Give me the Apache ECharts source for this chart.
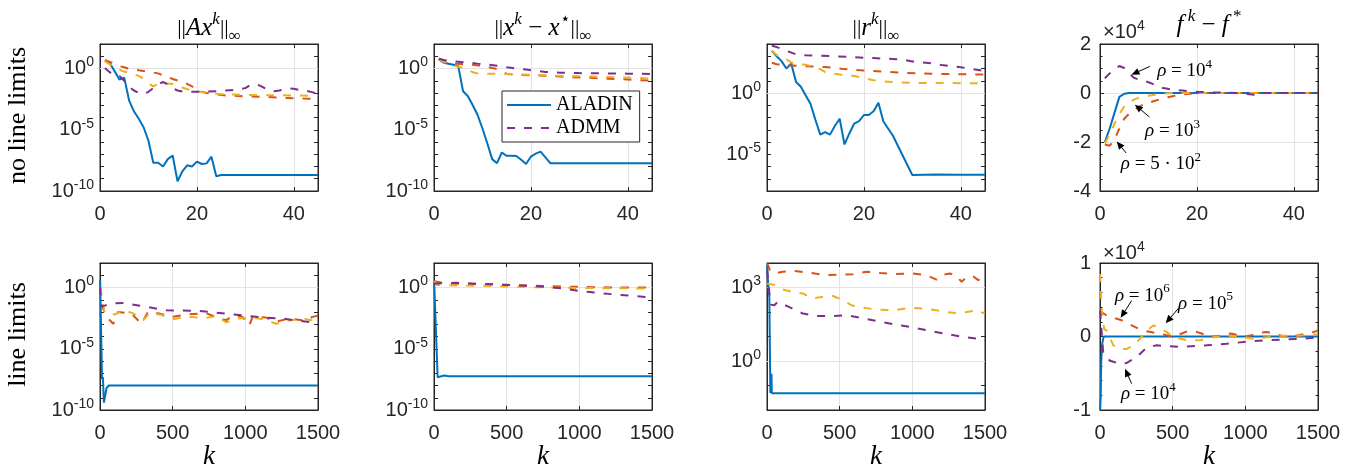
<!DOCTYPE html>
<html>
<head>
<meta charset="utf-8">
<script src="https://cdn.jsdelivr.net/npm/echarts@6/dist/echarts.min.js"></script>
<style>
html, body { margin: 0; padding: 0; background: #fff; }
#chart { width: 1354px; height: 471px; }
</style>
</head>
<body>
<div id="chart"></div>
<script>
// ---- data: [k, value] ----
// row 1: no line limits (ADMM rho = 5e2 / 1e3 / 1e4)
var consAladinFree = [[1,4.0],[2,2.8],[3,0.63],[4,0.126],[5,0.18],[6,2.5e-3],[7,3.2e-4],[8,7.9e-5],[9,1.6e-5],[10,1.26e-6],[11,2.0e-8],[12,2.0e-8],[13,1.0e-8],[14,4.0e-8],[15,7.9e-8],[16,6.3e-10],[17,4.0e-9],[18,1.26e-8],[19,1.0e-8],[20,2.5e-8],[21,1.6e-8],[22,1.8e-8],[23,6.3e-8],[24,1.6e-9],[25,2.0e-9],[45,2.0e-9]];
var consAdmm5e2Free = [[1,5.1],[2,3.5],[3,2.5],[4,1.58],[5,1.26],[6,0.95],[8,0.71],[10,0.55],[12,0.4],[13,0.28],[14,0.2],[15,0.14],[16,0.105],[17,0.079],[18,0.056],[19,0.035],[20,0.02],[21,0.0126],[22,0.01],[24,7.6e-3],[26,6.3e-3],[30,5.4e-3],[34,4.8e-3],[38,4.0e-3],[42,3.5e-3],[45,3.2e-3]];
var consAdmm1e3Free = [[1,4.0],[2,2.2],[3,1.26],[4,0.79],[5,0.56],[6,0.45],[7,0.33],[8,0.25],[9,0.14],[10,0.063],[11,0.035],[12,0.056],[13,0.063],[14,0.06],[15,0.055],[16,0.04],[17,0.028],[18,0.02],[19,0.016],[20,0.0138],[22,0.0105],[25,7.9e-3],[30,7.1e-3],[35,6.6e-3],[40,6.3e-3],[45,5.6e-3]];
var consAdmm1e4Free = [[1,1.1],[2,0.5],[3,0.28],[4,0.25],[5,0.1],[6,0.032],[7,0.016],[8,0.01],[9,7.9e-3],[10,0.0126],[11,0.025],[12,0.05],[13,0.079],[14,0.05],[15,0.025],[16,0.016],[17,0.0135],[18,0.0126],[20,0.0126],[22,0.0132],[24,0.014],[26,0.016],[28,0.018],[30,0.025],[31,0.045],[32,0.052],[33,0.04],[34,0.025],[35,0.016],[36,0.014],[37,0.016],[38,0.019],[39,0.024],[40,0.022],[41,0.018],[42,0.016],[43,0.014],[44,0.0112],[45,7.9e-3]];

var distAladinFree = [[1,5.5],[2,3.0],[3,2.4],[4,2.0],[5,1.58],[6,0.0138],[7,5.4e-3],[8,1.0e-3],[9,1.6e-4],[10,1.26e-5],[11,7.9e-7],[12,4.0e-8],[13,1.86e-8],[14,1.38e-7],[15,7.4e-8],[16,7.4e-8],[17,7.1e-8],[18,3.5e-8],[19,1.6e-8],[20,6.5e-8],[21,1.12e-7],[22,1.66e-7],[23,5.6e-8],[24,1.86e-8],[45,1.86e-8]];
var distAdmm5e2Free = [[1,6.3],[2,4.5],[3,3.2],[4,2.6],[5,2.4],[6,2.2],[8,2.0],[10,1.58],[12,1.12],[13,0.89],[14,0.56],[15,0.38],[17,0.3],[20,0.275],[24,0.25],[28,0.2],[32,0.174],[36,0.148],[40,0.126],[45,0.1]];
var distAdmm1e3Free = [[1,5.6],[2,3.5],[3,2.5],[4,1.78],[5,1.41],[6,1.12],[7,0.79],[8,0.5],[9,0.4],[11,0.37],[14,0.36],[16,0.34],[20,0.3],[24,0.27],[28,0.24],[32,0.22],[36,0.2],[40,0.18],[45,0.15]];
var distAdmm1e4Free = [[1,6.3],[2,5.0],[3,4.2],[5,3.6],[7,3.0],[9,2.5],[11,2.1],[13,1.66],[15,1.26],[17,1.0],[19,0.83],[21,0.65],[23,0.52],[26,0.46],[30,0.42],[35,0.4],[40,0.38],[45,0.36]];

var resAladinFree = [[1,2800],[2,1000],[3,400],[4,100],[5,250],[6,7.9],[7,3.2],[8,0.63],[9,0.126],[10,6.3e-3],[11,4.0e-4],[12,6.3e-4],[13,4.0e-4],[14,2.0e-3],[15,7.9e-3],[16,6.3e-5],[17,5.0e-4],[18,3.2e-3],[19,5.0e-3],[20,0.016],[21,0.016],[22,0.032],[23,0.158],[24,5.0e-3],[26,3.2e-4],[28,7.9e-6],[30,2.0e-7],[35,2.2e-7],[40,2.1e-7],[45,2.1e-7]];
var resAdmm5e2Free = [[1,295],[2,224],[4,190],[6,166],[8,151],[10,141],[12,132],[14,112],[16,89],[18,76],[20,68],[24,55],[28,45],[32,40],[36,36],[40,34],[45,32]];
var resAdmm1e3Free = [[1,2800],[2,1260],[3,790],[4,560],[5,316],[6,224],[8,200],[10,126],[11,89],[12,50],[13,40],[15,33],[17,28],[18,24],[19,20],[20,15.8],[22,11.2],[24,8.9],[27,7.6],[30,6.6],[45,6.3]];
var resAdmm1e4Free = [[1,7100],[2,5600],[3,4000],[4,2800],[5,2000],[6,1400],[8,1200],[10,1120],[14,1000],[18,830],[22,710],[26,600],[28,525],[30,380],[32,316],[34,263],[36,190],[38,158],[40,126],[42,95],[45,63]];

var objAladinFree = [[1,-20000],[2,-14500],[3,-8000],[4,-1600],[5,-300],[6,0],[45,0]];
var objAdmm5e2Free = [[1,-21000],[2,-21500],[3,-19000],[4,-14500],[5,-10500],[6,-8500],[7,-7000],[8,-5700],[9,-4700],[10,-4000],[11,-3400],[12,-2800],[13,-2200],[14,-1700],[15,-1300],[16,-900],[17,-600],[18,-400],[19,-200],[20,0],[45,0]];
var objAdmm1e3Free = [[1,-20500],[2,-17000],[3,-12500],[4,-8500],[5,-5500],[6,-3800],[7,-2700],[8,-2000],[9,-1500],[10,-1100],[11,-800],[12,-500],[13,-300],[14,-100],[15,0],[45,0]];
var objAdmm1e4Free = [[1,6000],[2,8000],[3,9800],[4,11000],[5,10200],[6,8000],[7,6200],[8,5500],[9,5000],[10,4400],[11,3600],[12,2700],[13,2000],[14,1700],[15,1400],[16,1200],[17,1000],[18,800],[19,700],[20,500],[22,300],[24,200],[26,100],[28,0],[30,-400],[32,-700],[33,-300],[34,0],[45,0]];

// row 2: line limits (ADMM rho = 1e6 / 1e5 / 1e4)
var consAladinLim = [[1,4.0],[14,3.2e-8],[20,5.0e-8],[27,4.0e-10],[45,6.0e-9],[60,1.0e-8],[1500,1.0e-8]];
var consAdmm1e6Lim = [[1,1.0],[20,0.02],[46,3.9e-3],[91,1.1e-3],[125,0.01],[216,7.4e-3],[285,1.1e-3],[330,0.01],[410,7.4e-3],[500,4.0e-3],[600,6.3e-3],[730,7.9e-3],[823,3.0e-3],[868,2.1e-3],[913,5.0e-3],[980,4.0e-3],[1027,7.9e-4],[1050,4.0e-3],[1142,3.5e-3],[1210,1.6e-3],[1300,2.9e-3],[1415,2.0e-3],[1461,4.0e-3],[1500,5.0e-3]];
var consAdmm1e5Lim = [[1,1.0],[30,0.01],[68,0.01],[100,6.0e-3],[160,0.0138],[228,7.9e-3],[297,2.1e-3],[340,8.0e-3],[420,6.0e-3],[500,2.5e-3],[560,3.5e-3],[640,4.0e-3],[700,3.0e-3],[800,4.5e-3],[868,1.45e-3],[950,3.0e-3],[1050,3.5e-3],[1130,2.5e-3],[1210,1.1e-3],[1300,2.0e-3],[1400,3.0e-3],[1450,2.1e-3],[1500,2.5e-3]];
var consAdmm1e4Lim = [[1,1.0],[11,0.026],[68,0.049],[160,0.055],[275,0.032],[457,0.0138],[685,0.0123],[913,6.5e-3],[1027,4.5e-3],[1142,3.5e-3],[1256,2.9e-3],[1370,1.9e-3],[1500,1.26e-3]];

var distAladinLim = [[1,2.9],[25,4.7e-8],[71,6.5e-8],[100,5.8e-8],[1500,5.8e-8]];
var distAdmm1e6Lim = [[1,3.2],[83,2.1],[300,1.9],[543,1.55],[773,1.3],[1003,1.12],[1233,1.0],[1500,1.0]];
var distAdmm1e5Lim = [[1,3.2],[20,1.6],[100,1.5],[300,1.4],[500,1.2],[700,1.05],[900,0.95],[1100,0.9],[1300,0.86],[1500,0.83]];
var distAdmm1e4Lim = [[1,2.0],[60,2.3],[150,2.4],[420,1.8],[704,1.29],[888,0.83],[1003,0.5],[1233,0.28],[1500,0.15]];

var resAladinLim = [[1,8000],[5,2500],[10,1000],[16,400],[23,0.05],[29,0.05],[31,0.3],[33,0.048],[1500,0.048]];
var resAdmm1e6Lim = [[1,10000],[20,5000],[50,3700],[108,4400],[177,4800],[292,4000],[407,3200],[500,3300],[592,3500],[684,4400],[780,3900],[870,3500],[1005,3700],[1097,3200],[1166,2100],[1210,3300],[1258,3700],[1300,3200],[1339,1700],[1373,2700],[1420,2800],[1453,2000],[1500,2700]];
var resAdmm1e5Lim = [[1,1450],[50,1260],[108,830],[177,660],[246,575],[315,355],[384,420],[453,450],[522,310],[580,190],[660,150],[752,126],[867,117],[982,150],[1074,138],[1166,118],[1235,100],[1304,91],[1373,100],[1442,117],[1500,87]];
var resAdmm1e4Lim = [[1,5000],[25,200],[50,190],[73,257],[154,158],[246,87],[338,68],[453,68],[545,74],[637,59],[752,43],[867,32],[982,25],[1097,18],[1212,13.5],[1327,10],[1442,8.3],[1500,7.1]];

var objAladinLim = [[1,-10000],[5,-8000],[8,-3500],[15,-1000],[25,0],[1500,0]];
var objAdmm1e6Lim = [[1,3500],[20,3200],[50,2800],[100,2500],[150,2200],[200,1700],[250,1200],[300,800],[350,600],[400,400],[450,200],[500,0],[550,300],[600,700],[650,700],[700,400],[750,0],[800,0],[850,200],[900,400],[950,200],[1000,0],[1050,200],[1100,500],[1150,600],[1200,400],[1250,100],[1300,0],[1350,100],[1400,300],[1450,500],[1500,800]];
var objAdmm1e5Lim = [[1,8500],[8,5000],[15,2500],[30,1000],[46,800],[92,-1200],[138,-1700],[184,-1700],[230,-1200],[275,-300],[321,800],[367,1500],[400,1300],[459,600],[505,-100],[596,-500],[688,-500],[780,-100],[872,100],[964,0],[1055,-300],[1150,-100],[1250,100],[1350,100],[1500,300]];
var objAdmm1e4Lim = [[1,3500],[10,1000],[23,-2400],[69,-3300],[138,-3700],[184,-3600],[252,-2800],[321,-1500],[390,-1200],[459,-1300],[550,-1400],[734,-1200],[872,-1000],[1009,-700],[1147,-500],[1284,-400],[1400,-300],[1500,-100]];

var seriesNames = [
    ['ALADIN', 'ADMM ρ=5·10²', 'ADMM ρ=10³', 'ADMM'],
    ['ALADIN', 'ADMM ρ=10⁶', 'ADMM ρ=10⁵', 'ADMM']
];
var legendNames = ['ALADIN', 'ADMM'];
var rowLabels = ['no line limits', 'line limits'];
var panelTitles = [
    '{bar|||}{i|Ax}{sup|k}{bar|||}{sub|∞}',
    '{bar|||}{i|x}{sup|k}{t| − }{i|x}{st|⋆}{bar|||}{sub|∞}',
    '{bar|||}{i|r}{sup|k}{bar|||}{sub|∞}',
    '{i|f}{sup| k}{t| − }{i|f}{st| *}'
];

// ---- look ----
var SANS = "'Liberation Sans', Arial, Helvetica, sans-serif";
var SERIF = "'Liberation Serif', 'DejaVu Serif', serif";
var INK = '#262626';
var GRIDC = '#e3e3e3';
var colors = ['#0072BD', '#D95319', '#EDB120', '#7E2F8E'];
var lefts = [100, 434, 767, 1100], tops = [44, 263], W = 218, H = 147;

var panels = [
    {row: 0, col: 0, kind: 'log', min: 1e-10, max: 1e2, every: 5, grid: [1, 1e-5], lines: [consAladinFree, consAdmm5e2Free, consAdmm1e3Free, consAdmm1e4Free]},
    {row: 0, col: 1, kind: 'log', min: 1e-10, max: 1e2, every: 5, grid: [1, 1e-5], lines: [distAladinFree, distAdmm5e2Free, distAdmm1e3Free, distAdmm1e4Free]},
    {row: 0, col: 2, kind: 'log', min: 1e-8, max: 1e4, every: 5, grid: [1, 1e-5], lines: [resAladinFree, resAdmm5e2Free, resAdmm1e3Free, resAdmm1e4Free]},
    {row: 0, col: 3, kind: 'lin', min: -40000, max: 20000, step: 20000, minor: 4, lines: [objAladinFree, objAdmm5e2Free, objAdmm1e3Free, objAdmm1e4Free]},
    {row: 1, col: 0, kind: 'log', min: 1e-10, max: 1e2, every: 5, grid: [1, 1e-5], lines: [consAladinLim, consAdmm1e6Lim, consAdmm1e5Lim, consAdmm1e4Lim]},
    {row: 1, col: 1, kind: 'log', min: 1e-10, max: 1e2, every: 5, grid: [1, 1e-5], lines: [distAladinLim, distAdmm1e6Lim, distAdmm1e5Lim, distAdmm1e4Lim]},
    {row: 1, col: 2, kind: 'log', min: 1e-2, max: 1e4, every: 3, grid: [1e3, 1], lines: [resAladinLim, resAdmm1e6Lim, resAdmm1e5Lim, resAdmm1e4Lim]},
    {row: 1, col: 3, kind: 'lin', min: -10000, max: 10000, step: 10000, minor: 5, lines: [objAladinLim, objAdmm1e6Lim, objAdmm1e5Lim, objAdmm1e4Lim]}
];

// arrows + rho labels, in data coordinates of the f-panels
var notes = [
    {p: 3, text: '{i|ρ}{n| = 10}{s|4}', at: [11.8, 9100], tail: [10.3, 10860], tip: [6.5, 7470]},
    {p: 3, text: '{i|ρ}{n| = 10}{s|3}', at: [9.3, -15400], tail: [10.2, -9800], tip: [7.2, -4780]},
    {p: 3, text: '{i|ρ}{n| = 5 · 10}{s|2}', at: [4.3, -28860], tail: [5.4, -24490], tip: [3.45, -19760]},
    {p: 7, text: '{i|ρ}{n| = 10}{s|6}', at: [103, 5570], tail: [218, 4890], tip: [142, 2540]},
    {p: 7, text: '{i|ρ}{n| = 10}{s|5}', at: [537, 4480], tail: [550, 4070], tip: [452, 1810]},
    {p: 7, text: '{i|ρ}{n| = 10}{s|4}', at: [144, -7880], tail: [218, -6420], tip: [172, -4390]}
];

function xAxisOf(i, row, mirror) {
    var xmax = row === 0 ? 45 : 1500, step = row === 0 ? 20 : 500;
    return {
        type: 'value', gridIndex: i, min: 0, max: xmax, interval: step,
        position: mirror ? 'top' : 'bottom',
        axisLine: {show: true, onZero: false, lineStyle: {color: INK, width: 1}},
        axisTick: {show: true, inside: true, length: 4, lineStyle: {color: INK}},
        axisLabel: {
            show: !mirror, margin: 13, fontSize: 20, fontFamily: SANS, color: INK,
            formatter: function (v) { return v % step === 0 ? String(v) : ''; }
        },
        splitLine: {show: !mirror, showMinLine: false, showMaxLine: false, lineStyle: {color: GRIDC, width: 1}}
    };
}

function yAxisOf(i, p, mirror) {
    var ax = {
        gridIndex: i, min: p.min, max: p.max, position: mirror ? 'right' : 'left',
        axisLine: {show: true, onZero: false, lineStyle: {color: INK, width: 1}},
        axisTick: {show: true, inside: true, length: 4, lineStyle: {color: INK}}
    };
    if (p.kind === 'log') {
        ax.type = 'log';
        ax.logBase = 10;
        ax.interval = 1;
        ax.splitLine = {show: false};
        ax.axisLabel = {
            show: !mirror, margin: 6,
            formatter: function (v) {
                var e = Math.round(Math.log10(v));
                return e % p.every === 0 ? '{b|10}{s|' + e + '}' : '';
            },
            rich: {
                b: {fontSize: 20, fontFamily: SANS, color: INK, lineHeight: 26},
                s: {fontSize: 14, fontFamily: SANS, color: INK, lineHeight: 10, verticalAlign: 'top'}
            }
        };
    } else {
        ax.type = 'value';
        ax.interval = p.step;
        ax.minorTick = {show: true, splitNumber: p.minor, length: 2.5, lineStyle: {color: INK}};
        ax.splitLine = {show: !mirror, showMinLine: false, showMaxLine: false, lineStyle: {color: GRIDC, width: 1}};
        ax.axisLabel = {
            show: !mirror, margin: 9, fontSize: 20, fontFamily: SANS, color: INK,
            formatter: function (v) { return String(v / 1e4); }
        };
    }
    return ax;
}

var grids = [], xAxes = [], yAxes = [], series = [];
panels.forEach(function (p, i) {
    grids.push({left: lefts[p.col], top: tops[p.row], width: W, height: H, show: true,
        borderColor: INK, borderWidth: 1, backgroundColor: '#fff', outerBoundsMode: 'none'});
    xAxes.push(xAxisOf(i, p.row, false));
    yAxes.push(yAxisOf(i, p, false));
});
panels.forEach(function (p, i) {
    xAxes.push(xAxisOf(i, p.row, true));
    yAxes.push(yAxisOf(i, p, true));
});
panels.forEach(function (p, i) {
    p.lines.forEach(function (d, j) {
        var s = {
            type: 'line', name: seriesNames[p.row][j], xAxisIndex: i, yAxisIndex: i,
            data: d, symbol: 'none', showSymbol: false, silent: true, z: 2,
            itemStyle: {color: colors[j]},
            lineStyle: {color: colors[j], width: 2, type: j === 0 ? 'solid' : [8, 9]}
        };
        if (j === 0 && p.grid) {
            s.markLine = {
                silent: true, symbol: ['none', 'none'], z: 1, animation: false,
                label: {show: false}, emphasis: {disabled: true},
                lineStyle: {color: GRIDC, width: 1, type: 'solid'},
                data: p.grid.map(function (v) { return {yAxis: v}; })
            };
        }
        series.push(s);
    });
});

var option = {
    animation: false,
    backgroundColor: '#fff',
    textStyle: {fontFamily: SANS},
    grid: grids,
    xAxis: xAxes,
    yAxis: yAxes,
    legend: {
        data: legendNames, orient: 'vertical', left: 502, top: 91,
        itemWidth: 44, itemHeight: 12, itemGap: 3, padding: [4, 7, 4, 4],
        borderColor: INK, borderWidth: 1, borderRadius: 0, backgroundColor: '#fff',
        selectedMode: false, z: 10,
        itemStyle: {opacity: 0},
        textStyle: {fontFamily: SERIF, fontSize: 20, color: '#000'}
    },
    series: series
};

var chart = echarts.init(document.getElementById('chart'));
chart.setOption(option);

// ---- texts and arrows ----
var titleRich = {
    bar: {fontFamily: SERIF, fontSize: 22, lineHeight: 34, fill: '#000'},
    t: {fontFamily: SERIF, fontSize: 25, lineHeight: 34, fill: '#000'},
    i: {fontFamily: SERIF, fontSize: 25, fontStyle: 'italic', lineHeight: 34, fill: '#000'},
    sup: {fontFamily: SERIF, fontSize: 17, fontStyle: 'italic', lineHeight: 17, verticalAlign: 'top', fill: '#000'},
    st: {fontFamily: SERIF, fontSize: 17, lineHeight: 17, verticalAlign: 'top', fill: '#000'},
    sub: {fontFamily: SERIF, fontSize: 17, lineHeight: 26, verticalAlign: 'bottom', fill: '#000'}
};
var noteRich = {
    i: {fontFamily: SERIF, fontSize: 19, fontStyle: 'italic', lineHeight: 26, fill: '#000'},
    n: {fontFamily: SERIF, fontSize: 19, lineHeight: 26, fill: '#000'},
    s: {fontFamily: SERIF, fontSize: 13, lineHeight: 12, verticalAlign: 'top', fill: '#000'}
};
var expRich = {
    n: {fontFamily: SANS, fontSize: 20, lineHeight: 26, fill: INK},
    s: {fontFamily: SANS, fontSize: 14, lineHeight: 10, verticalAlign: 'top', fill: INK}
};

var g = [];
var titleY = [28, 28, 28, 25];
panelTitles.forEach(function (t, c) {
    g.push({type: 'text', x: lefts[c] + W / 2, y: titleY[c], z: 20, silent: true,
        style: {text: t, rich: titleRich, align: 'center', verticalAlign: 'middle'}});
});
rowLabels.forEach(function (t, r) {
    g.push({type: 'text', x: 18, y: tops[r] + H / 2 - 2, rotation: Math.PI / 2, z: 20, silent: true,
        style: {text: t, fontFamily: SERIF, fontSize: 26, fill: '#000', align: 'center', verticalAlign: 'middle'}});
});
lefts.forEach(function (l) {
    g.push({type: 'text', x: l + W / 2, y: 457, z: 20, silent: true,
        style: {text: 'k', fontFamily: SERIF, fontStyle: 'italic', fontSize: 27, fill: '#000', align: 'center', verticalAlign: 'middle'}});
});
[32, 253].forEach(function (y) {
    g.push({type: 'text', x: 1103, y: y, z: 20, silent: true,
        style: {text: '{n|×10}{s|4}', rich: expRich, align: 'left', verticalAlign: 'middle'}});
});

function px(p, v) {
    return chart.convertToPixel({xAxisIndex: p, yAxisIndex: p}, v);
}
notes.forEach(function (n) {
    var a = px(n.p, n.at), tail = px(n.p, n.tail), tip = px(n.p, n.tip);
    g.push({type: 'text', x: a[0], y: a[1], z: 20, silent: true,
        style: {text: n.text, rich: noteRich, align: 'left', verticalAlign: 'middle'}});
    var dx = tip[0] - tail[0], dy = tip[1] - tail[1];
    var len = Math.sqrt(dx * dx + dy * dy), ux = dx / len, uy = dy / len;
    var hl = 8, hw = 3.5;
    var bx = tip[0] - ux * hl, by = tip[1] - uy * hl;
    g.push({type: 'line', z: 20, silent: true,
        shape: {x1: tail[0], y1: tail[1], x2: bx, y2: by},
        style: {stroke: '#000', lineWidth: 1}});
    g.push({type: 'polygon', z: 20, silent: true,
        shape: {points: [[tip[0], tip[1]], [bx - uy * hw, by + ux * hw], [bx + uy * hw, by - ux * hw]]},
        style: {fill: '#000'}});
});
chart.setOption({graphic: g});
</script>
</body>
</html>
